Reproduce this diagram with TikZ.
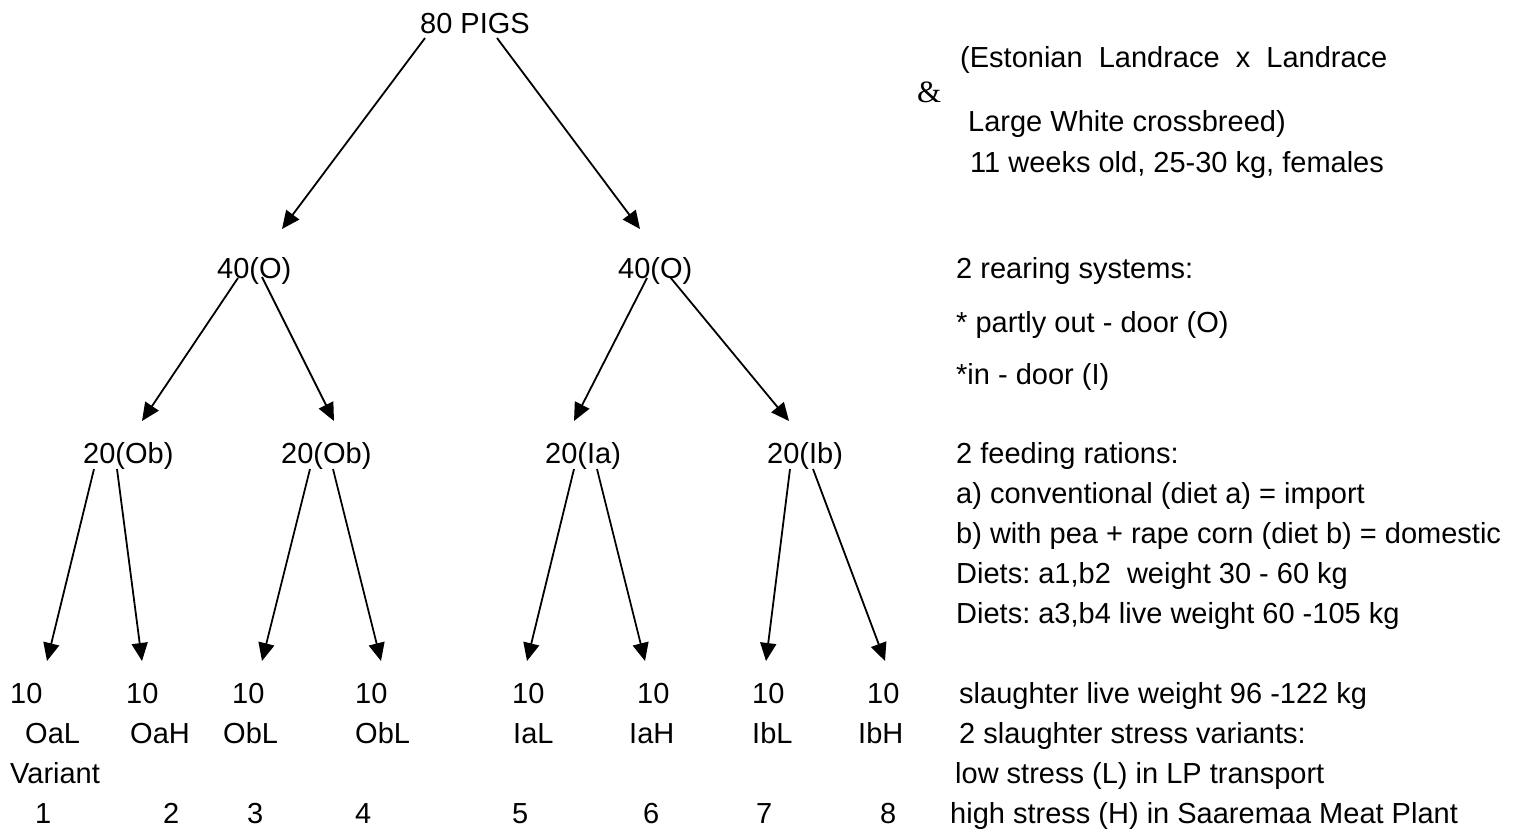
\documentclass[tikz,border=0pt]{standalone}
\usepackage{fontspec}
\setmainfont{Liberation Sans}
\newfontfamily\amperfont{Liberation Serif}
\usetikzlibrary{arrows.meta}
\frenchspacing
\begin{document}
\begin{tikzpicture}[x=1pt,y=-1pt,
  txt/.style={anchor=base west,inner sep=0pt,font=\fontsize{29}{35}\selectfont},
  arr/.style={line width=1.8pt,-{Triangle[length=18pt,width=16pt]}}]
\useasboundingbox (0,0) rectangle (1522,831);
% tree nodes
\node[txt] (P) at (420,33) {80 PIGS};
\node[txt] (A) at (217,278) {40(O)};
\node[txt] (B) at (618,278) {40(O)};
\node[txt] (C1) at (83,463) {20(Ob)};
\node[txt] (C2) at (281,463) {20(Ob)};
\node[txt] (C3) at (545,463) {20(Ia)};
\node[txt] (C4) at (767,463) {20(Ib)};
\node[txt] (T1) at (10,703) {10};
\node[txt] (T2) at (126,703) {10};
\node[txt] (T3) at (232,703) {10};
\node[txt] (T4) at (355,703) {10};
\node[txt] (T5) at (512,703) {10};
\node[txt] (T6) at (637,703) {10};
\node[txt] (T7) at (752,703) {10};
\node[txt] (T8) at (867,703) {10};
% labels
\node[txt] (L1) at (25,743) {OaL};
\node[txt] (L2) at (130,743) {OaH};
\node[txt] (L3) at (223,743) {ObL};
\node[txt] (L4) at (355,743) {ObL};
\node[txt] (L5) at (513,743) {IaL};
\node[txt] (L6) at (629,743) {IaH};
\node[txt] (L7) at (752,743) {IbL};
\node[txt] (L8) at (858,743) {IbH};
\node[txt] (V) at (10,783) {Variant};
\node[txt] (N1) at (35,823) {1};
\node[txt] (N2) at (163,823) {2};
\node[txt] (N3) at (247,823) {3};
\node[txt] (N4) at (355,823) {4};
\node[txt] (N5) at (512,823) {5};
\node[txt] (N6) at (643,823) {6};
\node[txt] (N7) at (756,823) {7};
\node[txt] (N8) at (880,823) {8};
% right column
\node[txt] (R1) at (960,67) {(Estonian\ \ Landrace\ \ x\ \ Landrace};
\node[anchor=base west,inner sep=0pt,font=\amperfont\fontsize{31}{36}\selectfont] (R2) at (917,102) {\&};
\node[txt] (R3) at (968,131) {Large White crossbreed)};
\node[txt] (R4) at (970,172) {11 weeks old, 25-30 kg, females};
\node[txt] (R5) at (956,278) {2 rearing systems:};
\node[txt] (R6) at (956,332) {* partly out - door (O)};
\node[txt] (R7) at (956,384) {*in - door (I)};
\node[txt] (R8) at (956,463) {2 feeding rations:};
\node[txt] (R9) at (956,503) {a) conventional (diet a) = import};
\node[txt] (R10) at (956,543) {b) with pea + rape corn (diet b) = domestic};
\node[txt] (R11) at (956,583) {Diets: a1,b2\ \ weight 30 - 60 kg};
\node[txt] (R12) at (956,623) {Diets: a3,b4 live weight 60 -105 kg};
\node[txt] (R13) at (959,703) {slaughter live weight 96 -122 kg};
\node[txt] (R14) at (959,743) {2 slaughter stress variants:};
\node[txt] (R15) at (955,783) {low stress (L) in LP transport};
\node[txt] (R16) at (950,823) {high stress (H) in Saaremaa Meat Plant};
% connectors
\draw[arr] ([shift={(5,5)}]P.base west) -- ([shift={(65,-49)}]A.base west);
\draw[arr] ([shift={(77,5)}]P.base west) -- ([shift={(22,-49)}]B.base west);
\draw[arr] ([shift={(21,0)}]A.base west) -- ([shift={(59,-42)}]C1.base west);
\draw[arr] ([shift={(45,-1)}]A.base west) -- ([shift={(53,-42)}]C2.base west);
\draw[arr] ([shift={(29,0)}]B.base west) -- ([shift={(29,-42)}]C3.base west);
\draw[arr] ([shift={(52,-1)}]B.base west) -- ([shift={(22,-42)}]C4.base west);
\draw[arr] ([shift={(11,6)}]C1.base west) -- ([shift={(37,-42)}]T1.base west);
\draw[arr] ([shift={(34,6)}]C1.base west) -- ([shift={(16,-42)}]T2.base west);
\draw[arr] ([shift={(29,6)}]C2.base west) -- ([shift={(30,-42)}]T3.base west);
\draw[arr] ([shift={(52,6)}]C2.base west) -- ([shift={(26,-42)}]T4.base west);
\draw[arr] ([shift={(29,6)}]C3.base west) -- ([shift={(15,-42)}]T5.base west);
\draw[arr] ([shift={(52,6)}]C3.base west) -- ([shift={(8,-42)}]T6.base west);
\draw[arr] ([shift={(23,6)}]C4.base west) -- ([shift={(14,-42)}]T7.base west);
\draw[arr] ([shift={(46,6)}]C4.base west) -- ([shift={(18,-42)}]T8.base west);
\end{tikzpicture}
\end{document}
